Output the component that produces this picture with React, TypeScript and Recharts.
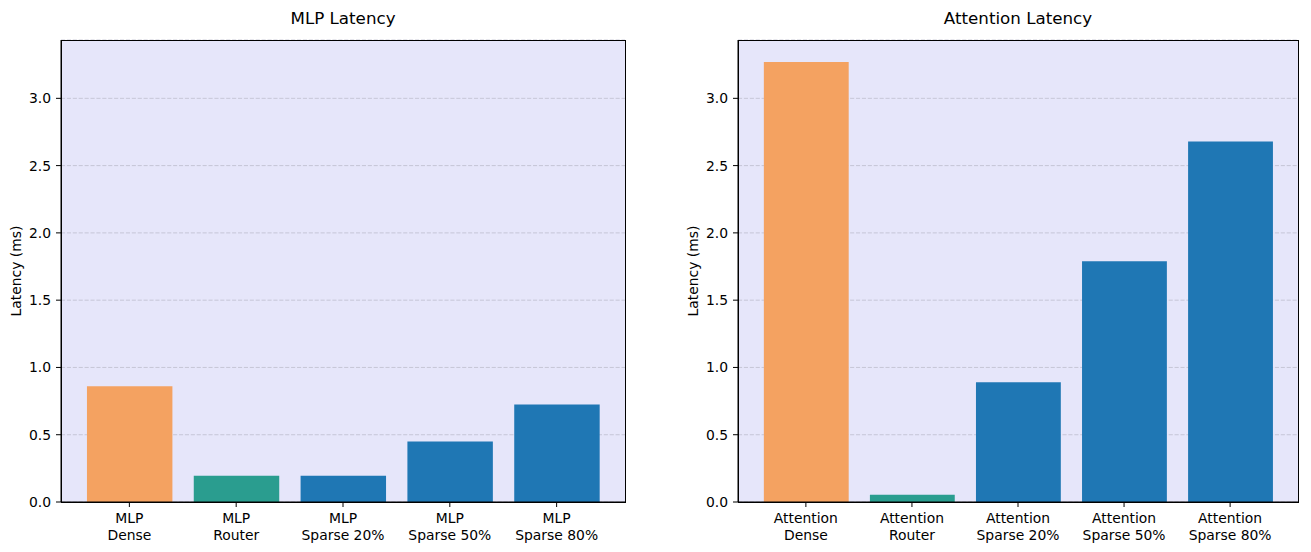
import { Bar, BarChart, CartesianGrid, Cell, XAxis, YAxis } from 'recharts'

const mlpCategories = ['MLP\nDense', 'MLP\nRouter', 'MLP\nSparse 20%', 'MLP\nSparse 50%', 'MLP\nSparse 80%']
const mlpLatency = [0.86, 0.195, 0.195, 0.45, 0.725]

const attnCategories = [
  'Attention\nDense',
  'Attention\nRouter',
  'Attention\nSparse 20%',
  'Attention\nSparse 50%',
  'Attention\nSparse 80%'
]
const attnLatency = [3.27, 0.054, 0.89, 1.79, 2.68]

const barColors = ['#F4A261', '#2A9D8F', '#1F77B4', '#1F77B4', '#1F77B4']
const yTicks = [0, 0.5, 1, 1.5, 2, 2.5, 3]
const yMax = 3.4335

const font = '"DejaVu Sans", sans-serif'

function CatTick(props: any) {
  const { x, y, payload } = props
  const [first, second] = String(payload.value).split('\n')
  return (
    <text x={x} y={y} textAnchor="middle" fontSize={13.9} fill="#000" fontFamily={font}>
      <tspan x={x} y={y + 14}>{first}</tspan>
      <tspan x={x} y={y + 30.5}>{second}</tspan>
    </text>
  )
}

function YLabel(props: any) {
  const { x, y, height } = props.viewBox
  const cx = x + 16
  const cy = y + height / 2
  return (
    <text
      x={cx}
      y={cy}
      transform={`rotate(-90 ${cx} ${cy})`}
      textAnchor="middle"
      dominantBaseline="central"
      fontSize={13.9}
      fill="#000"
      fontFamily={font}
    >
      Latency (ms)
    </text>
  )
}

function Panel({
  title,
  categories,
  values,
  left,
  plotWidth
}: {
  title: string
  categories: string[]
  values: number[]
  left: number
  plotWidth: number
}) {
  const data = categories.map((name, i) => ({ name, latency: values[i] }))
  // matplotlib-like band: 5 bars of width 0.8, 5% x margins
  const unit = plotWidth / 5.28
  const pad = unit * 0.14
  const axisW = 61
  const rightM = 15
  const top = 40
  const plotH = 462
  return (
    <div style={{ position: 'absolute', left, top: 0 }}>
      <div
        style={{
          position: 'absolute',
          left: axisW,
          top: 8,
          width: plotWidth,
          textAlign: 'center',
          fontSize: 16.7,
          lineHeight: '20px',
          fontFamily: font,
          color: '#000'
        }}
      >
        {title}
      </div>
      <BarChart
        width={axisW + plotWidth + rightM}
        height={552}
        data={data}
        margin={{ top, right: rightM, left: 0, bottom: 0 }}
      >
        <CartesianGrid
          vertical={false}
          fill="#E6E6FA"
          fillOpacity={1}
          stroke="#b8b8c8"
          strokeOpacity={0.7}
          strokeDasharray="4.1 1.8"
        />
        <XAxis
          dataKey="name"
          height={50}
          padding={{ left: pad, right: pad }}
          tick={<CatTick />}
          tickSize={5}
          tickMargin={2}
          interval={0}
          stroke="#000"
          axisLine={{ stroke: '#000' }}
          tickLine={{ stroke: '#000' }}
        />
        <YAxis
          width={axisW}
          domain={[0, yMax]}
          ticks={yTicks}
          tickFormatter={(v: number) => v.toFixed(1)}
          tickSize={5}
          tickMargin={5}
          stroke="#000"
          tick={{ fontSize: 13.9, fill: '#000', fontFamily: font }}
          axisLine={{ stroke: '#000' }}
          tickLine={{ stroke: '#000' }}
          allowDataOverflow
          label={{ content: (p: any) => <YLabel {...p} /> }}
        />
        <Bar dataKey="latency" barSize={unit * 0.8} isAnimationActive={false}>
          {data.map((_, i) => (
            <Cell key={i} fill={barColors[i]} />
          ))}
        </Bar>
      </BarChart>
      <div
        style={{
          position: 'absolute',
          left: axisW - 0.5,
          top: top - 0.5,
          width: plotWidth + 1,
          height: plotH + 1,
          boxSizing: 'border-box',
          border: '1px solid #000',
          pointerEvents: 'none'
        }}
      />
    </div>
  )
}

export default function App() {
  return (
    <div
      style={{
        position: 'absolute',
        left: 0,
        top: 0,
        width: 1311,
        height: 552,
        background: '#fff',
        overflow: 'hidden'
      }}
    >
      <Panel title="MLP Latency" categories={mlpCategories} values={mlpLatency} left={0} plotWidth={564} />
      <Panel
        title="Attention Latency"
        categories={attnCategories}
        values={attnLatency}
        left={677}
        plotWidth={560}
      />
    </div>
  )
}
